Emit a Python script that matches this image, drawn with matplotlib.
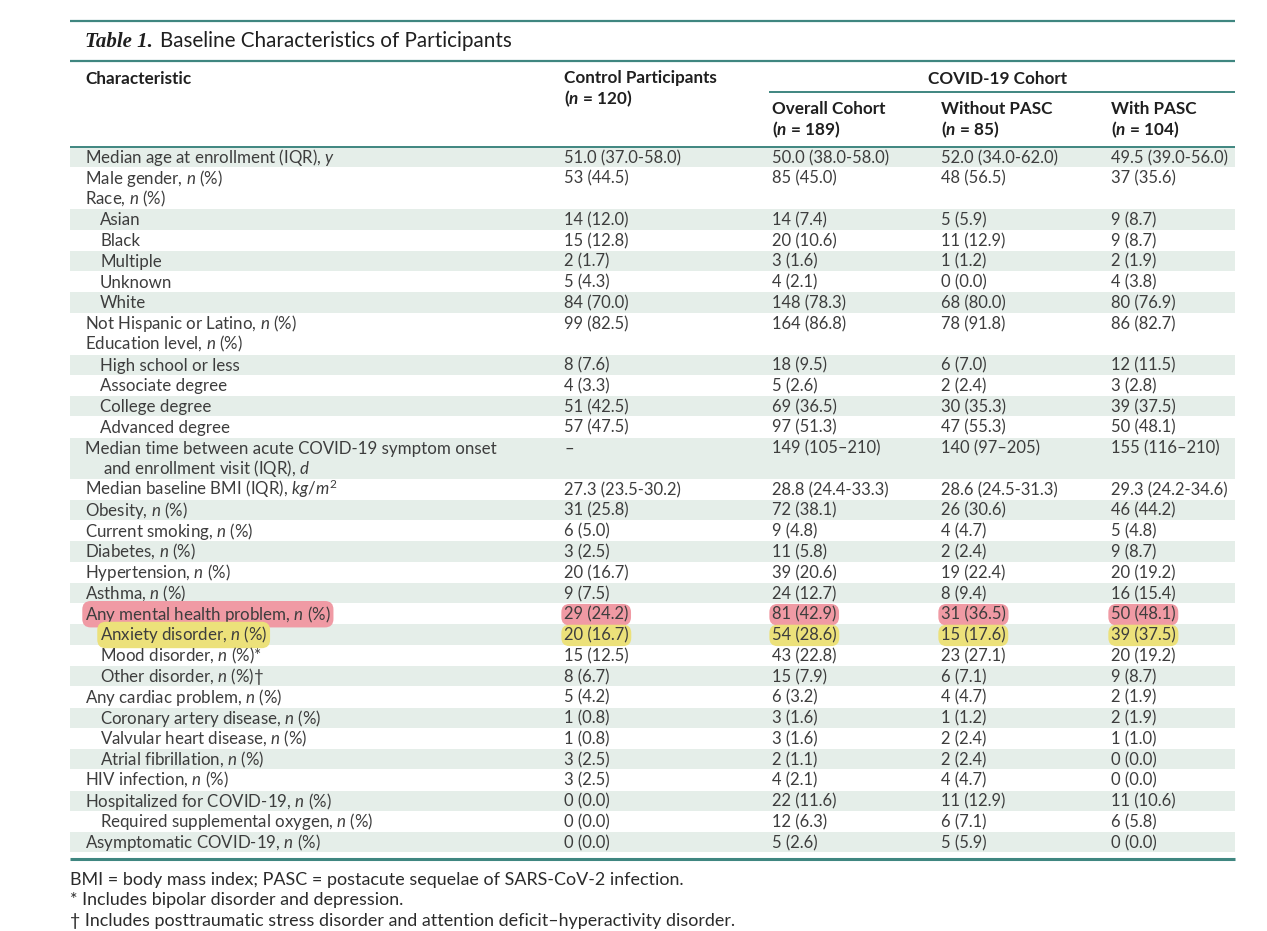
"""Table 1 (baseline characteristics) redrawn as a matplotlib figure."""

import matplotlib

matplotlib.use("Agg")
import matplotlib.pyplot as plt
from matplotlib import font_manager
from matplotlib.patches import Rectangle

NP = r"$\mathit{n}$ $\mathit{(\%)}$"

labels = [
    r"Median age at enrollment (IQR), $\mathit{y}$",
    "Male gender, " + NP,
    "Race, " + NP,
    "Asian",
    "Black",
    "Multiple",
    "Unknown",
    "White",
    "Not Hispanic or Latino, " + NP,
    "Education level, " + NP,
    "High school or less",
    "Associate degree",
    "College degree",
    "Advanced degree",
    "Median time between acute COVID-19 symptom onset\n"
    r"and enrollment visit (IQR), $\mathit{d}$",
    r"Median baseline BMI (IQR), $\mathit{kg/m^2}$",
    "Obesity, " + NP,
    "Current smoking, " + NP,
    "Diabetes, " + NP,
    "Hypertension, " + NP,
    "Asthma, " + NP,
    "Any mental health problem, " + NP,
    "Anxiety disorder, " + NP,
    "Mood disorder, " + NP + "*",
    "Other disorder, " + NP + "\u2020",
    "Any cardiac problem, " + NP,
    "Coronary artery disease, " + NP,
    "Valvular heart disease, " + NP,
    "Atrial fibrillation, " + NP,
    "HIV infection, " + NP,
    "Hospitalized for COVID-19, " + NP,
    "Required supplemental oxygen, " + NP,
    "Asymptomatic COVID-19, " + NP,
]

levels = [0, 0, 0, 1, 1, 1, 1, 1, 0, 0, 1, 1, 1, 1, 0, 0, 0,
          0, 0, 0, 0, 0, 1, 1, 1, 0, 1, 1, 1, 0, 0, 1, 0]

control = [
    "51.0 (37.0-58.0)", "53 (44.5)", None, "14 (12.0)", "15 (12.8)",
    "2 (1.7)", "5 (4.3)", "84 (70.0)", "99 (82.5)", None, "8 (7.6)",
    "4 (3.3)", "51 (42.5)", "57 (47.5)", "\u2013", "27.3 (23.5-30.2)",
    "31 (25.8)", "6 (5.0)", "3 (2.5)", "20 (16.7)", "9 (7.5)",
    "29 (24.2)", "20 (16.7)", "15 (12.5)", "8 (6.7)", "5 (4.2)",
    "1 (0.8)", "1 (0.8)", "3 (2.5)", "3 (2.5)", "0 (0.0)", "0 (0.0)",
    "0 (0.0)",
]

overall = [
    "50.0 (38.0-58.0)", "85 (45.0)", None, "14 (7.4)", "20 (10.6)",
    "3 (1.6)", "4 (2.1)", "148 (78.3)", "164 (86.8)", None, "18 (9.5)",
    "5 (2.6)", "69 (36.5)", "97 (51.3)", "149 (105\u2013210)",
    "28.8 (24.4-33.3)", "72 (38.1)", "9 (4.8)", "11 (5.8)", "39 (20.6)",
    "24 (12.7)", "81 (42.9)", "54 (28.6)", "43 (22.8)", "15 (7.9)",
    "6 (3.2)", "3 (1.6)", "3 (1.6)", "2 (1.1)", "4 (2.1)", "22 (11.6)",
    "12 (6.3)", "5 (2.6)",
]

without_pasc = [
    "52.0 (34.0-62.0)", "48 (56.5)", None, "5 (5.9)", "11 (12.9)",
    "1 (1.2)", "0 (0.0)", "68 (80.0)", "78 (91.8)", None, "6 (7.0)",
    "2 (2.4)", "30 (35.3)", "47 (55.3)", "140 (97\u2013205)",
    "28.6 (24.5-31.3)", "26 (30.6)", "4 (4.7)", "2 (2.4)", "19 (22.4)",
    "8 (9.4)", "31 (36.5)", "15 (17.6)", "23 (27.1)", "6 (7.1)",
    "4 (4.7)", "1 (1.2)", "2 (2.4)", "2 (2.4)", "4 (4.7)", "11 (12.9)",
    "6 (7.1)", "5 (5.9)",
]

with_pasc = [
    "49.5 (39.0-56.0)", "37 (35.6)", None, "9 (8.7)", "9 (8.7)",
    "2 (1.9)", "4 (3.8)", "80 (76.9)", "86 (82.7)", None, "12 (11.5)",
    "3 (2.8)", "39 (37.5)", "50 (48.1)", "155 (116\u2013210)",
    "29.3 (24.2-34.6)", "46 (44.2)", "5 (4.8)", "9 (8.7)", "20 (19.2)",
    "16 (15.4)", "50 (48.1)", "39 (37.5)", "20 (19.2)", "9 (8.7)",
    "2 (1.9)", "2 (1.9)", "1 (1.0)", "0 (0.0)", "0 (0.0)", "11 (10.6)",
    "6 (5.8)", "0 (0.0)",
]

column_titles = ["Overall Cohort", "Without PASC", "With PASC"]
column_sizes = [189, 85, 104]
control_size = 120

footnotes = [
    "BMI = body mass index; PASC = postacute sequelae of SARS-CoV-2 infection.",
    "* Includes bipolar disorder and depression.",
    "\u2020 Includes posttraumatic stress disorder and attention "
    "deficit\u2013hyperactivity disorder.",
]

# rows picked out with a marker in the original
highlight_rows = {21: "#f09aa4", 22: "#ece17a"}

TEAL = "#3f8680"
SHADE = "#e5eee9"
TEXT = "#3d3d3d"
HEAD = "#1f1f1f"
FS_LABEL = 12.2
FS_VALUE = 11.9
FS_HEAD = 12.3

available = {f.name for f in font_manager.fontManager.ttflist}
SANS = "Lato" if "Lato" in available else "DejaVu Sans"
SERIF = "Liberation Serif" if "Liberation Serif" in available else "DejaVu Serif"

plt.rcParams["font.family"] = [SANS, "DejaVu Sans"]
plt.rcParams["mathtext.fontset"] = "custom"
plt.rcParams["mathtext.rm"] = SANS
plt.rcParams["mathtext.it"] = f"{SANS}:italic"
plt.rcParams["mathtext.bf"] = f"{SANS}:bold"
if "mathtext.bfit" in plt.rcParams:
    plt.rcParams["mathtext.bfit"] = f"{SANS}:italic:bold"
    BFIT = r"\mathbfit"
else:
    BFIT = r"\mathit"

fig = plt.figure(figsize=(12.67, 9.31), dpi=100)
ax = fig.add_axes([0, 0, 1, 1])
ax.set_xlim(0, 1267)
ax.set_ylim(931, 0)
ax.axis("off")

LEFT, RIGHT = 70, 1235
LABEL_X, INDENT, WRAP_INDENT = 85, 15, 18
VALUE_X = [564, 772, 941, 1111]
ROW_TOP, PITCH, BASE = 147, 20.76, 16

# rules
for y, lw in ((21, 1.6), (61, 1.6), (146.5, 1.4), (859, 2.2)):
    ax.plot([LEFT, RIGHT], [y, y], color=TEAL, lw=lw, solid_capstyle="butt")
ax.plot([769, RIGHT], [91.5, 91.5], color=TEAL, lw=1.4, solid_capstyle="butt")

# title
renderer = fig.canvas.get_renderer()
tag = ax.text(LABEL_X, 47, "Table 1.", family=SERIF, style="italic",
              weight="bold", fontsize=15, color=HEAD, va="baseline")
tag_end = ax.transData.inverted().transform(
    (tag.get_window_extent(renderer).x1, 0))[0]
ax.text(tag_end + 7, 47, "Baseline Characteristics of Participants",
        fontsize=14.9, color=HEAD, va="baseline")

# column headers
head = dict(fontsize=FS_HEAD, weight="bold", color=HEAD, va="baseline")
ax.text(LABEL_X, 83.5, "Characteristic", **head)
ax.text(VALUE_X[0], 83.5, "Control Participants", **head)
ax.text(VALUE_X[0], 104.5, f"(${BFIT}{{n}}$ = {control_size})", **head)
ax.text((769 + RIGHT) / 2 - 4, 83.5, "COVID-19 Cohort", ha="center", **head)
for x, title, size in zip(VALUE_X[1:], column_titles, column_sizes):
    ax.text(x, 114.5, title, **head)
    ax.text(x, 135.5, f"(${BFIT}{{n}}$ = {size})", **head)

# body
line = 0
stripe = 0
for i, label in enumerate(labels):
    parts = label.split("\n")
    top = ROW_TOP + line * PITCH
    values = [control[i], overall[i], without_pasc[i], with_pasc[i]]
    if control[i] is not None:
        if stripe % 2 == 0:
            ax.add_patch(Rectangle((LEFT, top), RIGHT - LEFT,
                                   PITCH * len(parts) - 0.5,
                                   facecolor=SHADE, edgecolor="none",
                                   zorder=0))
        stripe += 1

    box = None
    if i in highlight_rows:
        box = dict(boxstyle="round,pad=0.16,rounding_size=0.5",
                   facecolor=highlight_rows[i], edgecolor="none")

    for k, part in enumerate(parts):
        x = LABEL_X + (INDENT * levels[i] if k == 0 else WRAP_INDENT)
        ax.text(x, top + BASE + k * PITCH, part, fontsize=FS_LABEL,
                color=TEXT, va="baseline", bbox=box)
    for x, value in zip(VALUE_X, values):
        if value is not None:
            ax.text(x, top + BASE, value, fontsize=FS_VALUE, color=TEXT,
                    va="baseline", bbox=box)
    line += len(parts)

# footnotes
for k, note in enumerate(footnotes):
    ax.text(LEFT, 884.5 + k * 20.8, note, fontsize=12.9, color="#2b2b2b",
            va="baseline")

fig.savefig("out.png", dpi=100)
